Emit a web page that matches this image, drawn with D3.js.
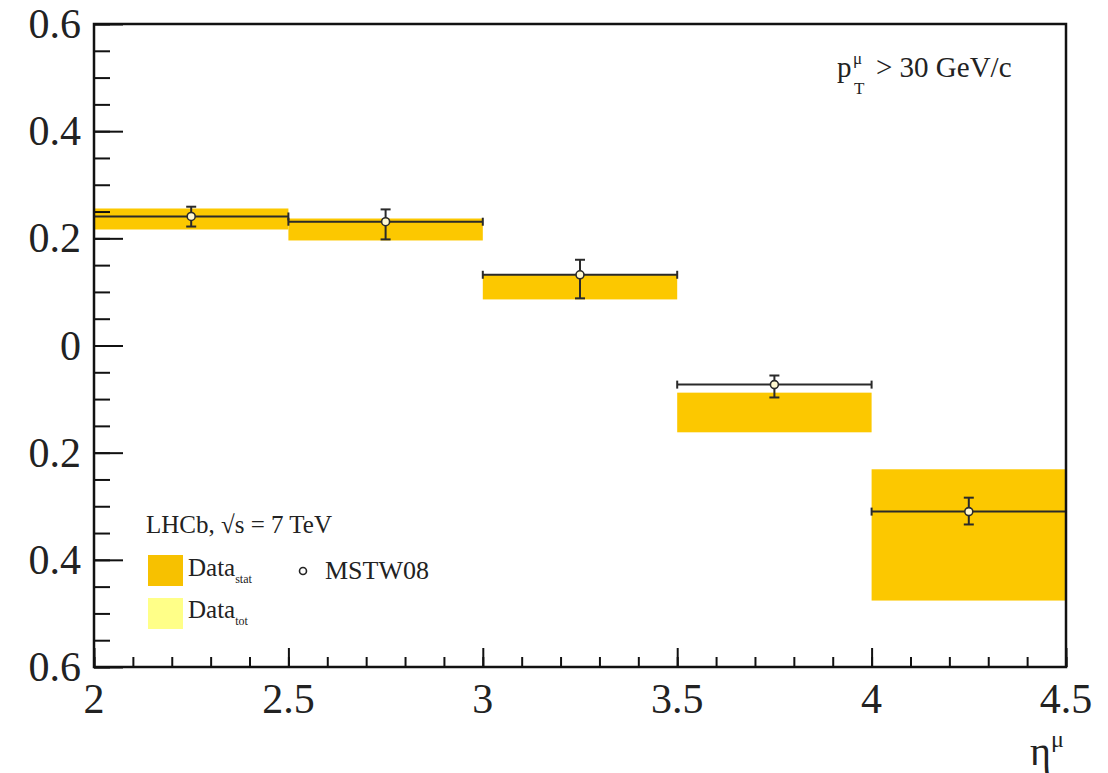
<!DOCTYPE html>
<html lang="en">
    <head>
        <meta charset="UTF-8" />
        <title>W asymmetry vs eta</title>
        <style>
            body { margin: 0; background: #fff; }
            .chart { width: 1108px; height: 773px; }
            text { font-family: "Liberation Serif", "DejaVu Serif", serif; fill: #222; }
        </style>
    </head>
    <body>
        <div class="chart"></div>

        <script src="https://d3js.org/d3.v7.min.js"></script>

        <script>
            // bin edges in eta
            const binEdges = [2, 2.5, 3, 3.5, 4, 4.5]
            // Data stat band
            const statLow  = [0.2165, 0.196, 0.086, -0.162, -0.476]
            const statHigh = [0.2557, 0.237, 0.132, -0.088, -0.231]
            // MSTW08 prediction
            const theory     = [0.2408, 0.231, 0.132, -0.073, -0.310]
            const theoryLow  = [0.222, 0.198, 0.088, -0.097, -0.334]
            const theoryHigh = [0.259, 0.254, 0.160, -0.056, -0.284]
            // ticks
            const xTickLabels = [2, 2.5, 3, 3.5, 4, 4.5]
            const xMinorTicks = d3.range(2, 4.5001, 0.1).map(d => +d.toFixed(2))
            const yTickLabels = [-0.6, -0.4, -0.2, 0, 0.2, 0.4, 0.6]
            const yMinorTicks = d3.range(-0.6, 0.6001, 0.05).map(d => +d.toFixed(2))

            const W = 1108, H = 773
            const mLeft = 94, mRight = 1066, mTop = 24, mBottom = 667

            const svg = d3.select('.chart').append('svg')
              .attr('width', W).attr('height', H)

            const x = d3.scaleLinear().domain([2, 4.5]).range([mLeft, mRight])
            const y = d3.scaleLinear().domain([-0.6, 0.6]).range([mBottom, mTop])

            const bins = statLow.map((d, i) => ({
              x0: binEdges[i], x1: binEdges[i + 1],
              lo: d, hi: statHigh[i],
              t: theory[i], tlo: theoryLow[i], thi: theoryHigh[i]
            }))

            // stat bands
            svg.append('g').selectAll('rect').data(bins).join('rect')
              .attr('x', d => x(d.x0))
              .attr('y', d => y(d.hi))
              .attr('width', d => x(d.x1) - x(d.x0))
              .attr('height', d => y(d.lo) - y(d.hi))
              .attr('fill', '#fcc800')

            // theory
            const th = svg.append('g').attr('stroke', '#2a2a2a').attr('stroke-width', 2)
            th.selectAll('.hline').data(bins).join('line')
              .attr('x1', d => x(d.x0)).attr('x2', d => x(d.x1))
              .attr('y1', d => y(d.t)).attr('y2', d => y(d.t))
            th.selectAll('.endcap').data(bins.flatMap(d => [d.x0, d.x1].map(e => ({ e, t: d.t })))).join('line')
              .attr('x1', d => x(d.e)).attr('x2', d => x(d.e))
              .attr('y1', d => y(d.t) - 4).attr('y2', d => y(d.t) + 4)
            th.selectAll('.vline').data(bins).join('line')
              .attr('x1', d => x((d.x0 + d.x1) / 2)).attr('x2', d => x((d.x0 + d.x1) / 2))
              .attr('y1', d => y(d.thi)).attr('y2', d => y(d.tlo))
            th.selectAll('.cap').data(bins.flatMap(d => [d.thi, d.tlo].map(v => ({ v, c: (d.x0 + d.x1) / 2 })))).join('line')
              .attr('x1', d => x(d.c) - 5).attr('x2', d => x(d.c) + 5)
              .attr('y1', d => y(d.v)).attr('y2', d => y(d.v))
            th.selectAll('circle').data(bins).join('circle')
              .attr('cx', d => x((d.x0 + d.x1) / 2))
              .attr('cy', d => y(d.t))
              .attr('r', 4)
              .attr('fill', '#fff8d0')
              .attr('stroke-width', 1.6)

            // axes
            const xAxis = svg.append('g').attr('transform', `translate(0,${mBottom})`)
            xAxis.call(d3.axisTop(x).tickValues(xMinorTicks).tickSize(10).tickFormat(''))
            xAxis.call(g => g.append('g').call(d3.axisTop(x).tickValues(xTickLabels).tickSize(19).tickFormat('')))
            xAxis.selectAll('line').attr('stroke', '#111').attr('stroke-width', 2)
            xAxis.selectAll('.domain').remove()
            xAxis.selectAll('.xl').data(xTickLabels).join('text')
              .attr('x', d => x(d)).attr('y', 46)
              .attr('text-anchor', 'middle')
              .style('font-size', '42px')
              .text(d => d)

            const yAxis = svg.append('g').attr('transform', `translate(${mLeft},0)`)
            yAxis.call(d3.axisRight(y).tickValues(yMinorTicks).tickSize(16).tickFormat(''))
            yAxis.call(g => g.append('g').call(d3.axisRight(y).tickValues(yTickLabels).tickSize(29).tickFormat('')))
            yAxis.selectAll('line').attr('stroke', '#111').attr('stroke-width', 2)
            yAxis.selectAll('.domain').remove()
            yAxis.selectAll('.yl').data(yTickLabels).join('text')
              .attr('x', -13).attr('y', d => y(d) + 14)
              .attr('text-anchor', 'end')
              .style('font-size', '42px')
              .text(d => Math.abs(d))

            // frame
            svg.append('rect')
              .attr('x', mLeft).attr('y', mTop)
              .attr('width', mRight - mLeft).attr('height', mBottom - mTop)
              .attr('fill', 'none').attr('stroke', '#111').attr('stroke-width', 2.5)

            // axis title
            const xt = svg.append('text').attr('x', 1030).attr('y', 765).style('font-size', '40px')
            xt.append('tspan').text('η')
            xt.append('tspan').attr('dy', -18).style('font-size', '24px').text('μ')

            // pT label
            const pt = svg.append('g')
            pt.append('text').attr('x', 837).attr('y', 77).style('font-size', '29px').text('p')
            pt.append('text').attr('x', 853).attr('y', 64).style('font-size', '17px').text('μ')
            pt.append('text').attr('x', 854).attr('y', 94).style('font-size', '17px').text('T')
            pt.append('text').attr('x', 876).attr('y', 77).style('font-size', '29px').text('> 30 GeV/c')

            // legend
            const lg = svg.append('g')
            lg.append('text').attr('x', 146).attr('y', 533).style('font-size', '25px').text('LHCb, √s = 7 TeV')
            lg.append('rect').attr('x', 148).attr('y', 555).attr('width', 35).attr('height', 31).attr('fill', '#f7c100')
            const ds = lg.append('text').attr('x', 188).attr('y', 576).style('font-size', '25px')
            ds.append('tspan').text('Data')
            ds.append('tspan').attr('dy', 7).style('font-size', '12px').text('stat')
            lg.append('circle').attr('cx', 303).attr('cy', 571).attr('r', 3.5)
              .attr('fill', 'none').attr('stroke', '#222').attr('stroke-width', 1.6)
            lg.append('text').attr('x', 325).attr('y', 579).style('font-size', '26px').text('MSTW08')
            lg.append('rect').attr('x', 148).attr('y', 598).attr('width', 35).attr('height', 31).attr('fill', '#ffff88')
            const dt = lg.append('text').attr('x', 188).attr('y', 618).style('font-size', '25px')
            dt.append('tspan').text('Data')
            dt.append('tspan').attr('dy', 7).style('font-size', '12px').text('tot')
        </script>
    </body>
</html>
